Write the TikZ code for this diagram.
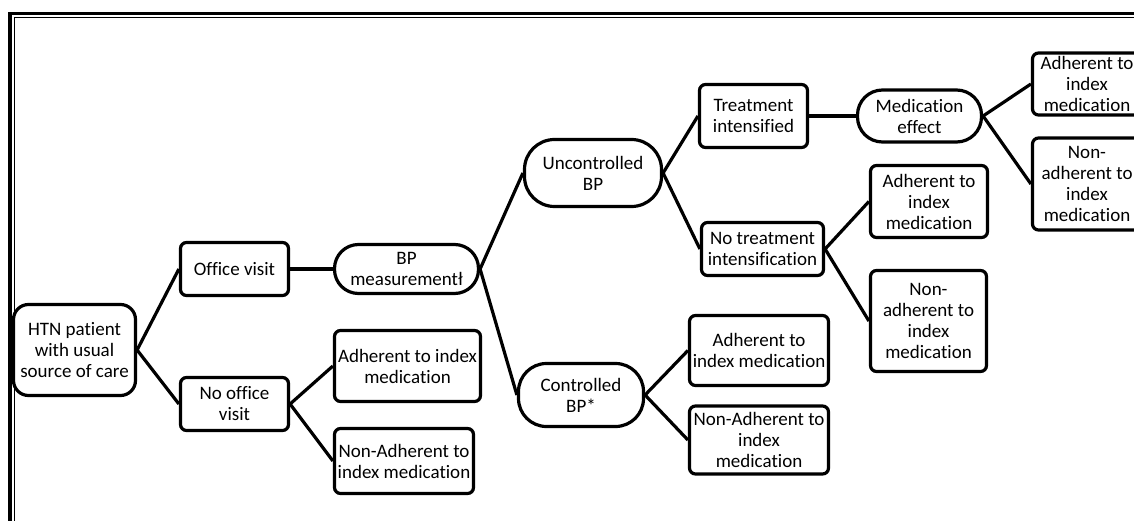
\documentclass[tikz,border=0pt]{standalone}
\usepackage{fontspec}
\setmainfont{Carlito}[Ligatures=NoCommon]
\usetikzlibrary{positioning}

\begin{document}
\begin{tikzpicture}
	[on grid, font=\fontsize{19pt}{21pt}\selectfont,
	 box/.style={draw, line width=3.2pt, rounded corners=6pt, align=center, inner sep=1pt},
	 pill/.style={box, rounded corners=#1}, pill/.default=25pt,
	 sz/.style 2 args={minimum width=#1, minimum height=#2},
	 link/.style={line width=3.2pt}]
   \useasboundingbox (0pt,0pt) rectangle (1134pt,-521pt);
   \clip (0pt,0pt) rectangle (1134pt,-521pt);
   % frame
   \draw[line width=3.5pt] (10pt,-521pt) -- (10pt,-13.5pt) -- (1134pt,-13.5pt);
   \draw[line width=1pt] (14.5pt,-521pt) -- (14.5pt,-17.5pt) -- (1134pt,-17.5pt);
   % tree
   \node[pill=15pt, sz={122pt}{91pt}] (root) at (74.5pt,-350pt) {HTN patient\\with usual\\source of care};
   \node[box, sz={108pt}{53pt}] (office) [above right=81pt and 160pt of root] {Office visit};
   \node[box, sz={108pt}{53pt}] (nooffice) [below right=54pt and 160pt of root] {No office\\visit};
   \node[pill=24pt, sz={144pt}{49pt}] (bpm) [right=172pt of office] {BP\\measurementł};
   \node[box, sz={146pt}{71pt}] (nadh) [above right=38pt and 173pt of nooffice] {Adherent to index\\medication};
   \node[box, sz={139pt}{65pt}] (nnon) [below right=57pt and 169.5pt of nooffice] {Non-Adherent to\\index medication};
   \node[pill=30pt, sz={137pt}{67pt}] (unc) [above right=96pt and 186.5pt of bpm] {Uncontrolled\\BP};
   \node[pill=28pt, sz={125pt}{63pt}] (ctl) [below right=126pt and 174.5pt of bpm] {Controlled\\BP*};
   \node[box, sz={108pt}{63pt}] (treat) [above right=57pt and 160.5pt of unc] {Treatment\\intensified};
   \node[box, sz={122pt}{53pt}] (notreat) [below right=76pt and 169.5pt of unc] {No treatment\\intensification};
   \node[pill=25pt, sz={124pt}{52pt}] (medeff) [right=166pt of treat] {Medication\\effect};
   \node[box, sz={139pt}{70pt}] (cadh) [above right=44.5pt and 178pt of ctl] {Adherent to\\index medication};
   \node[box, sz={139pt}{68pt}] (cnon) [below right=45pt and 178pt of ctl] {Non-Adherent to\\index\\medication};
   \node[box, sz={117pt}{72pt}] (tadh) [above right=47.5pt and 166.5pt of notreat] {Adherent to\\index\\medication};
   \node[box, sz={116pt}{101pt}] (tnon) [below right=72pt and 166pt of notreat] {Non-\\adherent to\\index\\medication};
   \node[box, sz={109pt}{62pt}] (madh) [above right=32pt and 167.5pt of medeff] {Adherent to\\index\\medication};
   \node[box, sz={109pt}{92pt}] (mnon) [below right=68pt and 167.5pt of medeff] {Non-\\adherent to\\index\\medication};
    \path[link]
    (root.east)
          edge (office.west)
          edge (nooffice.west)
    (office.east) edge (bpm.west)
    (nooffice.east)
          edge (nadh.west)
          edge (nnon.west)
    (bpm.east)
          edge (unc.west)
          edge (ctl.west)
    (unc.east)
          edge (treat.west)
          edge (notreat.west)
    (treat.east) edge (medeff.west)
    (ctl.east)
          edge (cadh.west)
          edge (cnon.west)
    (notreat.east)
          edge (tadh.west)
          edge (tnon.west)
    (medeff.east)
          edge (madh.west)
          edge (mnon.west);
\end{tikzpicture}
\end{document}
